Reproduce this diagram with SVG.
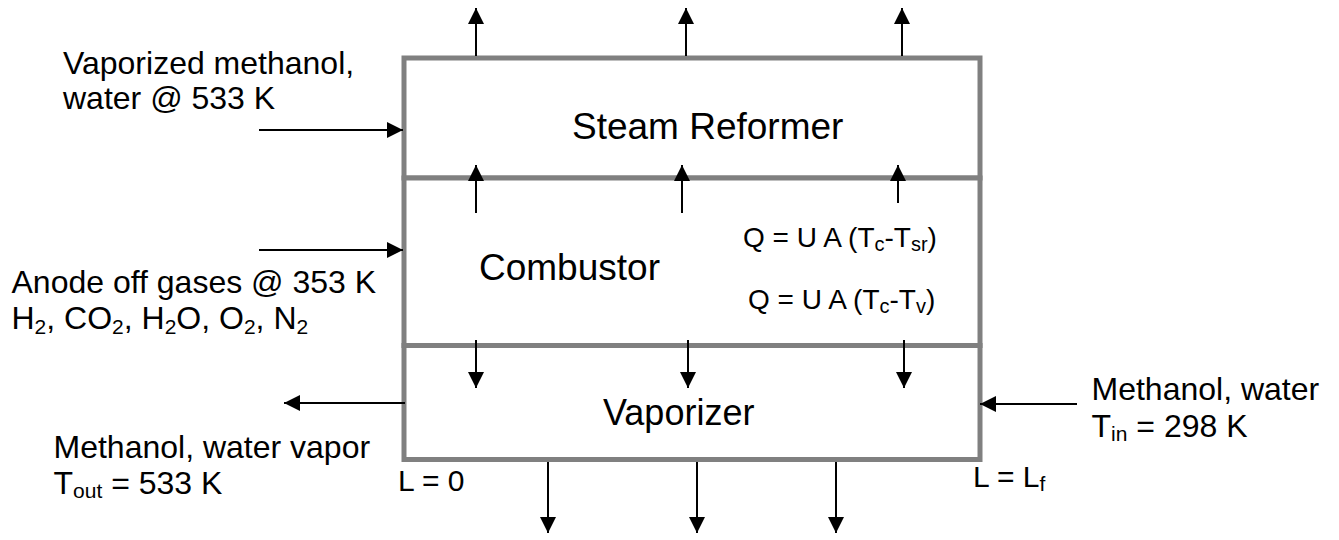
<svg xmlns="http://www.w3.org/2000/svg" width="1339" height="540" viewBox="0 0 1339 540">
<style>
  .box{fill:#ffffff;stroke:#808080;stroke-width:5}
  .t{font-family:"Liberation Sans",Arial,sans-serif;fill:#000000}
  .lbl{font-size:32px}
  .big{font-size:37px}
  .eq{font-size:28px}
  .sub{font-size:21px}
  .esub{font-size:20px}
  .arr{stroke:#000000;stroke-width:2;fill:none;marker-end:url(#ah)}
</style>
<defs>
  <marker id="ah" markerUnits="userSpaceOnUse" markerWidth="17" markerHeight="17" refX="16" refY="8" orient="auto">
    <path d="M0,0 L16,8 L0,16 Z" fill="#000000"/>
  </marker>
</defs>
<rect width="1339" height="540" fill="#ffffff"/>

<g id="steam-reformer">
  <rect class="box" x="404" y="58" width="576" height="120"/>
  <text class="t big" x="572" y="138.5">Steam Reformer</text>
</g>
<g id="combustor">
  <rect class="box" x="404" y="178" width="576" height="167.5"/>
  <text class="t big" x="479" y="280">Combustor</text>
  <text class="t eq" x="743" y="247">Q = U A (T<tspan class="esub" dy="4">c</tspan><tspan dy="-4">-T</tspan><tspan class="esub" dy="4">sr</tspan><tspan dy="-4">)</tspan></text>
  <text class="t eq" x="748" y="309">Q = U A (T<tspan class="esub" dy="4">c</tspan><tspan dy="-4">-T</tspan><tspan class="esub" dy="4">v</tspan><tspan dy="-4">)</tspan></text>
</g>
<g id="vaporizer">
  <rect class="box" x="404" y="345.5" width="576" height="114"/>
  <text class="t big" x="603" y="425" style="font-size:36px">Vaporizer</text>
</g>

<g id="connectors">
  <line class="arr" x1="476" y1="56" x2="476" y2="8"/>
  <line class="arr" x1="686" y1="56" x2="686" y2="8"/>
  <line class="arr" x1="902" y1="56" x2="902" y2="8"/>
  <line class="arr" x1="476" y1="213" x2="476" y2="165"/>
  <line class="arr" x1="682" y1="213" x2="682" y2="165"/>
  <line class="arr" x1="898" y1="203" x2="898" y2="165"/>
  <line class="arr" x1="476" y1="340" x2="476" y2="388"/>
  <line class="arr" x1="688" y1="340" x2="688" y2="388"/>
  <line class="arr" x1="904" y1="340" x2="904" y2="388"/>
  <line class="arr" x1="548" y1="462" x2="548" y2="533"/>
  <line class="arr" x1="697" y1="462" x2="697" y2="533"/>
  <line class="arr" x1="836" y1="462" x2="836" y2="533"/>
  <line class="arr" x1="259" y1="130" x2="403" y2="130"/>
  <line class="arr" x1="259" y1="250" x2="403" y2="250"/>
  <line class="arr" x1="405" y1="403" x2="284" y2="403"/>
  <line class="arr" x1="1077" y1="404" x2="980" y2="404"/>
</g>

<g id="labels">
  <text class="t lbl" x="63" y="73.5">Vaporized methanol,</text>
  <text class="t lbl" x="63" y="108.5">water @ 533 K</text>
  <text class="t lbl" x="11.5" y="293">Anode off gases @ 353 K</text>
  <text class="t lbl" x="11.5" y="329">H<tspan class="sub" dy="5">2</tspan><tspan dy="-5">, CO</tspan><tspan class="sub" dy="5">2</tspan><tspan dy="-5">, H</tspan><tspan class="sub" dy="5">2</tspan><tspan dy="-5">O, O</tspan><tspan class="sub" dy="5">2</tspan><tspan dy="-5">, N</tspan><tspan class="sub" dy="5">2</tspan></text>
  <text class="t lbl" x="53.5" y="457.5">Methanol, water vapor</text>
  <text class="t lbl" x="53.5" y="494">T<tspan class="sub" dy="4">out</tspan><tspan dy="-4"> = 533 K</tspan></text>
  <text class="t lbl" x="1091.5" y="399.5">Methanol, water</text>
  <text class="t lbl" x="1091.5" y="436.5">T<tspan class="sub" dy="4">in</tspan><tspan dy="-4"> = 298 K</tspan></text>
  <text class="t" style="font-size:30px" x="398" y="491">L = 0</text>
  <text class="t" style="font-size:30px" x="973" y="487">L = L<tspan class="sub" dy="4">f</tspan></text>
</g>
</svg>
